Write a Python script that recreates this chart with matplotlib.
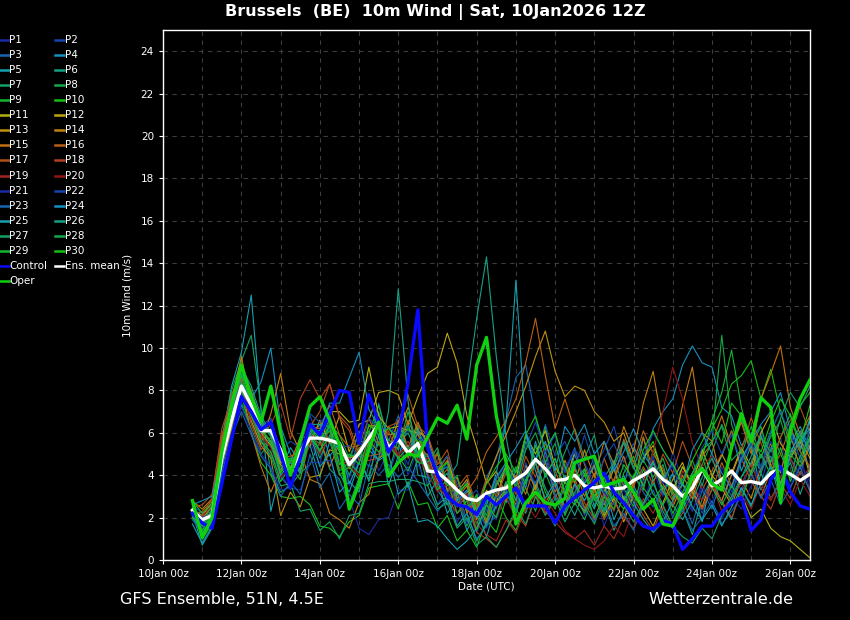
"""GFS ensemble 10m wind plume for Brussels, wetterzentrale style."""

import matplotlib

matplotlib.use("Agg")
import matplotlib.pyplot as plt
import numpy as np
from matplotlib.lines import Line2D

OUTPUT_PNG = "out.png"

# ---------------------------------------------------------------------------
# Data: 6-hourly steps from 10Jan 18z to 26Jan 12z (m/s)
# ---------------------------------------------------------------------------
STEP_DAYS = 0.25
FIRST_DAY = 0.75  # 10Jan 18z, days after 10Jan 00z

P1 = [2.0, 1.2, 1.8, 4.5, 6.5, 7.6, 6.8, 5.2, 5.8, 4.1, 3.3, 4.9, 5.6, 4.5, 6.3, 4.7,
      3.5, 4.8, 5.9, 4.2, 5.1, 6.0, 4.0, 5.2, 3.9, 2.6, 3.4, 1.8, 2.5, 1.3, 2.4, 1.9,
      3.1, 2.2, 4.0, 3.1, 5.2, 3.6, 2.4, 3.5, 2.1, 3.3, 1.6, 2.8, 1.9, 3.4, 2.5, 4.3,
      3.0, 5.1, 3.7, 2.3, 3.6, 2.6, 4.4, 3.2, 5.0, 3.9, 6.1, 4.6, 5.8, 3.7, 4.9, 3.3]
P2 = [2.6, 2.2, 2.4, 5.2, 7.1, 8.0, 7.4, 6.3, 6.7, 5.1, 4.6, 5.8, 6.8, 5.6, 6.2, 4.6,
      3.9, 5.0, 4.4, 6.2, 4.0, 5.4, 4.5, 6.0, 4.6, 3.5, 4.1, 2.7, 3.3, 2.0, 3.1, 2.4,
      4.5, 3.6, 5.8, 4.7, 6.4, 4.9, 5.6, 4.3, 5.9, 4.4, 5.2, 6.3, 4.6, 5.5, 3.8, 4.9,
      3.1, 4.0, 2.6, 3.5, 2.2, 3.4, 2.8, 4.1, 3.3, 4.6, 3.6, 5.3, 4.2, 6.0, 5.1, 6.6]
P3 = [2.1, 1.6, 2.0, 4.4, 6.2, 7.4, 6.5, 5.5, 5.1, 3.9, 3.4, 5.1, 6.1, 5.0, 6.6, 5.5,
      4.6, 6.1, 5.2, 7.4, 5.6, 6.8, 5.1, 6.4, 5.3, 3.9, 4.6, 3.0, 3.7, 2.4, 3.9, 4.8,
      6.6, 8.6, 9.2, 6.7, 5.1, 6.0, 4.2, 5.3, 3.6, 4.9, 3.3, 4.5, 2.9, 4.0, 3.2, 2.5,
      3.4, 2.0, 2.9, 1.7, 3.3, 2.4, 3.9, 3.0, 4.7, 5.6, 4.1, 5.3, 3.6, 4.8, 4.0, 5.7]
P4 = [2.4, 1.9, 2.3, 4.9, 7.0, 8.5, 7.6, 8.4, 10.0, 6.3, 5.0, 4.2, 5.7, 6.4, 4.9, 5.5,
      3.6, 4.6, 5.5, 4.7, 5.6, 4.8, 6.4, 5.0, 4.0, 3.3, 2.6, 3.4, 1.8, 2.5, 1.6, 3.2,
      2.7, 4.3, 3.4, 5.6, 3.9, 4.8, 3.1, 5.0, 3.6, 4.4, 3.0, 4.7, 3.5, 5.3, 4.6, 6.2,
      7.0, 7.6, 9.2, 10.1, 9.3, 9.1, 7.2, 6.8, 5.4, 6.0, 4.3, 4.9, 3.6, 5.5, 6.3, 5.2]
P5 = [2.2, 0.7, 1.5, 5.5, 8.2, 9.8, 12.5, 7.0, 2.3, 4.2, 5.3, 4.6, 5.4, 3.9, 5.6, 4.1,
      3.2, 4.6, 3.8, 5.9, 3.5, 4.9, 3.4, 4.8, 3.0, 3.8, 2.2, 2.9, 1.4, 2.3, 1.1, 2.6,
      3.7, 2.8, 4.5, 3.4, 5.1, 2.9, 4.0, 2.7, 4.3, 2.5, 3.6, 1.9, 3.0, 2.2, 3.8, 4.6,
      3.2, 4.1, 2.4, 3.3, 1.8, 4.0, 4.9, 6.1, 4.2, 5.4, 3.3, 4.5, 2.8, 5.1, 5.9, 4.1]
P6 = [2.0, 1.4, 2.2, 4.8, 7.2, 8.8, 7.9, 6.4, 5.9, 4.6, 4.3, 5.3, 6.0, 4.8, 5.9, 5.1,
      4.0, 5.2, 6.1, 5.4, 6.3, 5.5, 6.0, 4.9, 4.9, 4.2, 3.8, 4.5, 8.0, 11.4, 14.3, 9.6,
      5.8, 3.3, 2.2, 3.7, 2.5, 1.6, 3.0, 2.1, 3.3, 1.9, 2.7, 1.4, 2.4, 3.5, 2.6, 3.8,
      2.3, 1.5, 2.4, 1.2, 2.9, 3.9, 2.7, 1.9, 3.4, 2.5, 4.1, 2.9, 3.7, 4.6, 3.1, 4.4]
P7 = [2.3, 1.1, 1.9, 5.8, 8.0, 9.4, 10.6, 7.2, 4.1, 3.2, 3.5, 4.1, 4.5, 5.6, 4.3, 3.8,
      2.6, 3.9, 4.0, 5.6, 4.1, 5.7, 6.4, 5.0, 5.0, 3.6, 4.1, 2.5, 3.0, 1.7, 2.8, 3.6,
      4.4, 3.5, 5.6, 4.7, 6.3, 3.9, 5.1, 6.2, 4.8, 5.9, 3.6, 4.4, 5.5, 4.3, 5.8, 3.7,
      4.5, 2.9, 3.8, 4.7, 3.5, 5.1, 6.4, 5.3, 6.6, 5.2, 4.1, 6.0, 7.1, 5.3, 4.6, 6.1]
P8 = [2.5, 1.8, 2.1, 4.3, 6.0, 7.3, 6.2, 5.0, 5.6, 4.4, 4.2, 4.3, 5.8, 5.5, 6.7, 5.3,
      4.3, 5.6, 5.5, 7.0, 5.1, 6.6, 5.0, 6.3, 4.3, 5.1, 3.2, 3.9, 2.3, 3.1, 1.9, 3.5,
      4.2, 2.8, 3.4, 2.3, 4.1, 3.0, 2.2, 3.6, 2.5, 1.7, 2.9, 3.8, 2.6, 4.0, 3.3, 5.2,
      3.9, 3.1, 4.4, 3.6, 5.2, 5.6, 10.6, 6.4, 5.0, 6.3, 4.8, 6.1, 5.0, 3.9, 5.6, 6.5]
P9 = [2.7, 1.5, 2.3, 5.1, 7.0, 8.6, 7.0, 5.8, 6.2, 5.0, 4.7, 4.8, 6.2, 5.1, 6.4, 5.9,
      4.8, 6.0, 6.0, 7.3, 5.5, 4.9, 4.2, 5.4, 3.5, 4.4, 2.6, 3.3, 1.6, 2.7, 1.8, 3.0,
      2.0, 1.4, 2.6, 3.5, 2.4, 3.6, 2.1, 3.2, 4.0, 2.8, 3.9, 2.6, 3.4, 2.5, 4.3, 3.1,
      2.6, 3.5, 2.3, 3.9, 4.8, 6.6, 7.9, 9.9, 7.2, 5.4, 6.3, 4.6, 5.8, 6.9, 5.2, 6.7]
P10 = [2.6, 1.0, 1.7, 4.0, 6.1, 7.8, 6.0, 4.6, 4.0, 3.0, 2.9, 3.0, 2.6, 1.6, 1.5, 1.1,
       1.8, 2.1, 3.4, 3.5, 3.6, 2.4, 3.7, 2.6, 2.7, 1.5, 2.1, 0.9, 1.4, 0.6, 1.9, 1.3,
       2.9, 2.1, 3.8, 4.6, 3.2, 2.4, 3.7, 2.8, 4.1, 2.9, 2.0, 3.0, 2.4, 3.9, 4.8, 5.6,
       4.0, 3.2, 2.7, 4.1, 5.0, 6.2, 7.1, 8.3, 8.7, 9.4, 7.6, 9.0, 6.9, 5.8, 7.3, 7.9]
P11 = [2.0, 1.9, 2.6, 4.6, 6.6, 7.9, 6.9, 6.0, 5.4, 4.5, 4.1, 4.3, 5.8, 5.7, 7.0, 7.0,
       6.5, 6.6, 9.1, 6.8, 6.2, 6.3, 6.1, 6.0, 5.8, 4.2, 4.9, 3.1, 3.6, 2.0, 3.3, 2.7,
       4.6, 3.8, 5.9, 5.0, 6.1, 4.4, 3.6, 5.1, 3.7, 4.5, 3.2, 4.3, 2.8, 3.6, 4.8, 5.4,
       4.1, 3.3, 4.4, 3.5, 5.2, 4.0, 3.4, 2.6, 3.1, 2.0, 2.4, 1.5, 1.1, 0.9, 0.5, 0.1]
P12 = [2.4, 2.1, 2.7, 5.0, 7.4, 9.2, 7.3, 6.1, 5.6, 4.6, 4.4, 5.3, 5.4, 6.6, 5.5, 6.8,
       5.1, 6.4, 6.6, 7.9, 8.0, 7.8, 6.4, 7.7, 8.8, 9.1, 10.7, 9.3, 6.8, 5.3, 3.6, 4.2,
       3.0, 3.9, 2.4, 3.5, 4.6, 3.4, 4.5, 2.9, 2.3, 3.4, 2.1, 2.9, 1.8, 3.1, 2.4, 1.6,
       2.7, 3.8, 4.6, 3.2, 2.5, 3.9, 5.0, 4.1, 5.3, 4.4, 6.0, 6.9, 5.5, 4.8, 5.6, 4.0]
P13 = [2.2, 2.0, 2.5, 4.2, 6.3, 8.0, 6.6, 5.4, 4.8, 2.1, 3.2, 2.5, 3.9, 4.0, 5.2, 5.0,
       4.8, 5.0, 6.3, 6.4, 5.9, 6.0, 7.2, 6.1, 5.7, 4.3, 4.9, 3.2, 3.8, 2.3, 3.7, 4.9,
       5.9, 7.0, 8.2, 9.6, 10.8, 8.9, 7.7, 8.2, 8.0, 7.0, 6.5, 5.6, 6.0, 4.6, 3.8, 4.7,
       3.3, 2.5, 3.6, 2.9, 4.4, 3.5, 2.8, 4.0, 5.2, 4.1, 5.8, 4.5, 3.6, 4.9, 5.7, 4.8]
P14 = [2.8, 2.4, 2.9, 5.3, 7.5, 9.6, 7.2, 5.5, 6.9, 8.8, 6.1, 5.1, 3.8, 3.6, 2.2, 1.9,
       1.5, 2.7, 3.1, 4.8, 5.1, 6.6, 5.3, 6.5, 5.4, 4.1, 4.7, 2.9, 3.5, 1.9, 3.2, 2.5,
       3.6, 2.6, 4.5, 3.3, 5.0, 3.2, 4.7, 3.6, 5.2, 3.9, 5.6, 4.5, 6.3, 5.1, 7.4, 8.9,
       6.2, 5.0, 7.3, 9.1, 6.0, 5.6, 3.7, 2.6, 3.8, 2.9, 4.4, 5.5, 4.1, 5.9, 4.3, 5.4]
P15 = [2.3, 1.7, 2.2, 4.7, 6.8, 8.2, 6.0, 4.4, 3.2, 4.3, 4.6, 5.8, 5.8, 5.7, 4.4, 5.5,
       4.3, 5.3, 5.4, 6.6, 4.9, 6.2, 4.8, 6.0, 4.2, 5.0, 3.3, 3.9, 2.2, 2.9, 1.7, 3.8,
       2.8, 4.0, 3.1, 4.6, 2.7, 3.5, 2.4, 4.3, 3.0, 4.1, 2.6, 3.8, 4.9, 3.4, 5.8, 4.2,
       3.6, 2.8, 4.0, 3.1, 4.9, 5.5, 6.8, 5.3, 6.5, 5.0, 7.6, 8.8, 10.1, 7.2, 5.9, 6.8]
P16 = [2.1, 2.3, 2.8, 5.6, 7.8, 9.0, 8.0, 6.6, 6.0, 4.8, 4.9, 5.1, 6.3, 6.2, 7.3, 5.9,
       5.3, 5.4, 6.7, 5.5, 5.3, 5.3, 6.6, 5.5, 4.9, 3.7, 4.3, 2.6, 3.2, 3.9, 5.1, 5.8,
       6.6, 7.6, 9.3, 11.4, 8.7, 6.2, 7.6, 6.1, 4.5, 3.2, 4.8, 3.6, 5.7, 4.6, 6.1, 5.0,
       4.3, 3.1, 2.6, 3.7, 2.4, 3.3, 4.6, 3.5, 4.8, 3.7, 3.0, 4.2, 5.0, 6.3, 5.1, 4.4]
P17 = [2.5, 2.6, 3.1, 5.9, 7.0, 8.6, 6.4, 5.2, 5.8, 4.7, 4.6, 4.9, 6.3, 7.0, 8.3, 6.8,
       6.3, 5.0, 4.9, 5.0, 6.3, 6.5, 7.8, 6.3, 5.9, 4.5, 5.2, 3.4, 4.0, 2.5, 3.8, 3.0,
       4.1, 3.1, 4.9, 3.9, 5.5, 4.2, 3.0, 3.9, 2.4, 3.3, 1.9, 2.8, 2.0, 3.5, 4.4, 3.6,
       5.0, 4.1, 5.6, 4.4, 3.3, 4.2, 5.0, 6.1, 5.2, 6.7, 5.5, 4.3, 5.8, 6.6, 7.2, 6.0]
P18 = [2.0, 2.1, 2.9, 6.2, 7.6, 8.1, 6.9, 5.7, 6.4, 7.4, 5.7, 7.6, 8.5, 7.6, 8.3, 6.7,
       6.1, 4.7, 4.7, 4.8, 6.1, 4.9, 4.9, 5.0, 4.6, 3.5, 2.9, 2.2, 2.6, 1.3, 1.0, 0.6,
       1.4, 2.2, 1.6, 3.0, 2.2, 3.1, 2.4, 3.6, 2.7, 1.9, 3.2, 2.3, 3.8, 2.9, 2.1, 1.4,
       2.5, 1.6, 2.2, 3.1, 2.4, 3.6, 2.8, 2.0, 3.2, 4.1, 3.0, 2.4, 3.6, 2.9, 4.2, 3.3]
P19 = [2.4, 2.0, 2.6, 5.4, 7.2, 8.4, 7.0, 5.9, 5.3, 4.2, 4.6, 4.1, 6.0, 5.4, 6.1, 4.3,
       4.8, 3.9, 6.0, 5.4, 5.6, 4.9, 5.6, 4.7, 4.8, 3.6, 3.9, 2.5, 3.1, 1.7, 1.2, 0.9,
       1.9, 1.3, 2.4, 3.1, 2.3, 1.8, 1.3, 1.0, 1.4, 0.7, 1.6, 1.0, 2.0, 1.5, 2.9, 2.2,
       3.3, 2.6, 4.2, 3.5, 2.8, 3.6, 2.3, 3.0, 3.6, 4.5, 3.4, 2.8, 3.9, 4.8, 3.7, 4.4]
P20 = [2.2, 1.8, 2.4, 5.0, 6.6, 7.8, 6.7, 5.6, 5.0, 3.9, 4.4, 3.8, 5.6, 5.0, 5.8, 4.0,
       4.4, 4.0, 5.7, 5.1, 5.4, 5.0, 5.3, 4.8, 4.1, 3.2, 3.6, 2.2, 2.8, 1.5, 2.6, 2.0,
       3.0, 1.9, 2.7, 2.0, 2.9, 2.2, 1.4, 1.0, 0.7, 0.5, 0.9, 1.6, 1.1, 2.4, 3.6, 5.1,
       7.0, 9.1, 7.6, 5.5, 4.4, 4.9, 3.5, 2.7, 3.1, 2.4, 3.6, 2.9, 3.4, 2.6, 3.8, 3.0]
P21 = [2.3, 1.5, 1.9, 4.2, 6.0, 7.2, 6.1, 5.0, 4.4, 3.3, 3.4, 3.3, 4.6, 4.6, 4.7, 3.6,
       2.9, 1.5, 1.2, 1.9, 2.0, 3.3, 3.3, 4.5, 3.6, 4.3, 2.8, 3.4, 1.7, 2.4, 1.5, 2.9,
       3.4, 2.5, 4.6, 3.6, 5.0, 3.3, 4.4, 5.1, 3.7, 4.6, 3.2, 2.6, 3.3, 2.4, 3.9, 4.8,
       3.6, 4.5, 3.0, 2.3, 3.4, 2.7, 1.9, 3.0, 2.4, 3.5, 4.4, 5.6, 4.3, 3.5, 4.5, 3.7]
P22 = [2.5, 2.0, 2.2, 4.6, 6.7, 7.9, 7.0, 6.0, 6.6, 5.2, 5.6, 5.3, 6.9, 6.5, 6.9, 5.3,
       5.4, 4.9, 6.7, 6.2, 6.2, 5.9, 6.1, 5.7, 5.6, 4.3, 4.9, 3.6, 2.9, 3.3, 2.3, 3.8,
       4.5, 3.6, 5.3, 6.5, 5.1, 5.9, 4.1, 5.2, 4.6, 3.5, 4.8, 5.5, 4.3, 3.7, 4.9, 6.0,
       5.2, 4.4, 3.1, 4.0, 5.3, 6.1, 5.0, 5.9, 4.6, 5.5, 4.4, 6.1, 7.0, 5.9, 4.8, 6.2]
P23 = [1.9, 1.3, 1.8, 4.0, 5.8, 7.0, 5.9, 4.9, 4.3, 3.0, 3.7, 3.1, 5.0, 3.4, 4.1, 2.4,
       3.1, 2.6, 4.5, 4.0, 4.5, 3.9, 4.4, 3.7, 3.0, 2.3, 2.9, 1.6, 2.2, 1.0, 1.6, 2.1,
       3.3, 2.4, 4.2, 3.6, 4.7, 3.0, 2.3, 3.2, 2.4, 1.8, 2.8, 1.6, 2.2, 1.4, 2.6, 3.3,
       2.1, 1.5, 2.4, 1.4, 2.0, 2.8, 1.7, 2.3, 3.0, 4.1, 2.9, 3.8, 2.6, 3.4, 4.4, 3.2]
P24 = [2.6, 2.8, 3.0, 5.0, 7.1, 8.7, 7.9, 6.6, 5.9, 4.7, 4.7, 4.7, 6.1, 6.1, 7.4, 7.4,
       8.6, 9.8, 7.1, 6.3, 4.9, 6.2, 4.9, 6.1, 5.2, 4.1, 4.4, 2.8, 3.3, 2.0, 2.6, 3.9,
       4.6, 5.3, 6.1, 4.7, 5.6, 4.2, 6.3, 5.6, 6.4, 5.0, 5.6, 4.2, 5.1, 6.2, 5.0, 4.3,
       3.8, 4.6, 3.5, 5.2, 6.0, 5.0, 4.1, 3.4, 4.8, 5.6, 6.4, 7.0, 7.9, 6.1, 5.3, 6.6]
P25 = [1.7, 0.8, 1.6, 4.4, 6.9, 8.3, 7.6, 6.2, 5.5, 4.0, 4.6, 4.1, 6.0, 4.4, 5.0, 3.2,
       3.7, 3.2, 5.2, 4.7, 5.0, 3.1, 3.6, 1.8, 1.9, 1.6, 1.0, 0.5, 0.9, 1.5, 2.6, 4.1,
       6.5, 13.2, 6.0, 4.2, 2.9, 3.7, 2.5, 3.6, 2.8, 3.8, 2.3, 3.1, 4.0, 2.7, 1.9, 1.3,
       1.8, 2.8, 3.6, 2.5, 1.9, 2.6, 1.6, 2.5, 3.4, 2.6, 3.6, 4.4, 3.3, 5.0, 6.1, 5.0]
P26 = [2.1, 1.6, 2.4, 5.2, 7.6, 9.1, 8.2, 6.8, 6.0, 4.8, 4.8, 4.9, 6.4, 6.4, 6.3, 5.1,
       4.9, 5.0, 3.7, 4.8, 7.0, 12.8, 7.5, 4.0, 3.9, 2.6, 3.0, 1.6, 2.2, 0.9, 1.7, 2.6,
       3.2, 2.3, 3.7, 4.6, 3.4, 2.5, 3.4, 4.4, 3.3, 2.4, 3.9, 4.6, 5.6, 4.4, 3.5, 4.6,
       3.2, 2.6, 1.9, 2.8, 3.9, 4.8, 3.6, 2.8, 3.9, 4.9, 5.9, 4.3, 3.5, 4.9, 5.6, 6.2]
P27 = [2.4, 1.3, 2.0, 4.8, 6.9, 8.4, 7.2, 5.6, 4.9, 3.5, 3.6, 2.3, 2.4, 1.4, 1.8, 1.0,
       2.1, 2.2, 3.6, 3.7, 3.7, 3.8, 3.8, 3.7, 3.5, 2.4, 2.7, 1.5, 2.0, 0.7, 1.1, 0.6,
       1.4, 2.4, 1.7, 3.0, 2.1, 2.9, 1.8, 2.7, 1.9, 3.1, 2.2, 3.4, 2.6, 1.8, 2.7, 3.6,
       2.6, 1.6, 1.1, 0.8, 1.5, 1.0, 2.1, 3.0, 3.9, 4.6, 5.8, 5.1, 6.7, 7.9, 7.2, 8.2]
P28 = [2.0, 1.7, 2.6, 5.4, 7.4, 9.0, 7.8, 6.5, 5.8, 4.2, 4.7, 4.2, 6.2, 5.6, 6.1, 4.2,
       4.6, 4.1, 6.0, 5.4, 5.7, 5.2, 7.0, 5.3, 4.6, 5.3, 3.5, 4.0, 2.4, 3.0, 2.1, 3.6,
       4.3, 3.4, 5.2, 6.0, 4.6, 5.5, 3.7, 3.0, 2.2, 3.1, 2.4, 3.6, 2.7, 4.0, 4.7, 3.9,
       4.8, 3.4, 2.7, 3.8, 4.5, 5.6, 6.3, 4.7, 5.2, 4.0, 4.9, 5.8, 6.6, 5.0, 4.4, 5.8]
P29 = [2.8, 2.2, 2.7, 5.0, 6.8, 8.0, 6.8, 5.6, 5.1, 3.7, 4.4, 3.8, 5.8, 5.2, 5.8, 4.0,
       4.4, 3.8, 5.6, 5.1, 5.4, 4.8, 5.3, 4.6, 4.5, 3.3, 3.8, 2.2, 2.8, 1.4, 2.6, 2.0,
       3.6, 4.4, 3.6, 5.4, 4.0, 4.8, 3.1, 2.6, 3.4, 2.0, 3.0, 2.4, 4.1, 4.9, 3.4, 2.8,
       3.5, 2.2, 3.2, 4.1, 4.9, 3.4, 2.6, 3.5, 2.8, 4.2, 5.0, 4.0, 5.3, 3.7, 4.9, 5.8]
P30 = [2.3, 1.4, 2.1, 4.9, 7.3, 8.7, 7.5, 6.2, 5.6, 4.1, 4.8, 4.3, 6.3, 5.7, 6.3, 4.5,
       5.0, 4.5, 6.4, 5.9, 6.2, 5.7, 6.2, 5.6, 5.5, 4.2, 4.6, 3.1, 3.6, 2.3, 3.6, 4.4,
       5.0, 4.1, 5.9, 6.8, 5.2, 6.0, 4.4, 3.7, 4.3, 3.0, 3.9, 3.2, 4.5, 3.8, 5.2, 6.1,
       5.2, 4.5, 3.6, 4.7, 5.6, 6.5, 5.5, 7.4, 6.8, 5.7, 5.1, 6.5, 7.6, 6.8, 5.6, 7.3]

CONTROL = [2.2, 1.75, 1.5, 3.6, 5.7, 7.7, 7.0, 6.15, 6.5, 5.0, 3.45, 4.8, 6.4, 5.9, 6.9, 8.0,
           7.9, 5.5, 7.8, 6.5, 5.1, 5.8, 8.4, 11.8, 5.3, 4.0, 3.0, 2.6, 2.5, 2.15, 3.0, 2.6,
           3.0, 3.4, 2.55, 2.55, 2.55, 1.75, 2.55, 2.95, 3.3, 3.65, 4.1, 3.2, 2.7, 2.1, 1.6, 1.45,
           1.85, 1.7, 0.5, 1.0, 1.6, 1.6, 2.25, 2.7, 2.95, 1.4, 1.9, 3.8, 4.4, 3.2, 2.55, 2.4]
OPER = [2.8, 1.05, 2.0, 5.1, 7.3, 9.2, 7.7, 6.5, 8.2, 6.0, 4.0, 5.6, 7.25, 7.7, 6.6, 5.45,
        2.4, 3.6, 5.2, 6.5, 3.95, 4.6, 5.0, 4.9, 5.8, 6.7, 6.45, 7.3, 5.7, 9.2, 10.5, 6.8,
        4.6, 1.7, 2.7, 3.2, 2.7, 2.6, 2.9, 4.6, 4.75, 4.9, 3.5, 3.65, 3.8, 3.2, 2.4, 2.85,
        1.7, 1.6, 2.7, 3.9, 4.3, 3.6, 3.3, 5.3, 6.9, 5.6, 7.65, 7.2, 2.7, 6.15, 7.6, 8.5]
ENS_MEAN = [2.35, 1.9, 2.1, 4.8, 6.6, 8.2, 7.3, 6.1, 6.1, 5.2, 4.15, 5.1, 5.75, 5.75, 5.65, 5.5,
            4.5, 5.05, 5.75, 6.4, 5.3, 5.7, 5.05, 5.5, 4.2, 4.15, 3.75, 3.3, 2.9, 2.8, 3.15, 3.3,
            3.4, 3.8, 4.1, 4.75, 4.3, 3.75, 3.8, 4.0, 3.5, 3.4, 3.5, 3.35, 3.4, 3.75, 4.0, 4.3,
            3.8, 3.5, 3.0, 3.4, 4.3, 3.5, 3.8, 4.2, 3.65, 3.7, 3.6, 4.1, 4.3, 4.05, 3.75, 4.05]

MEMBERS = [P1, P2, P3, P4, P5, P6, P7, P8, P9, P10,
           P11, P12, P13, P14, P15, P16, P17, P18, P19, P20,
           P21, P22, P23, P24, P25, P26, P27, P28, P29, P30]

# P1-P10 and P21-P30 share a blue->green ramp, P11-P20 go yellow->red
RAMP_A = ["#1a2aa0", "#1545a8", "#1565b0", "#1590c0", "#15a0b0",
          "#15a085", "#15a065", "#15a848", "#15b530", "#15c015"]
RAMP_B = ["#b0b010", "#c0a510", "#c09010", "#c08010", "#c07010",
          "#b86015", "#b05015", "#b04020", "#a02820", "#901515"]
MEMBER_COLORS = RAMP_A + RAMP_B + RAMP_A
CONTROL_COLOR = "#0a0aff"
OPER_COLOR = "#10d010"
MEAN_COLOR = "white"

DATE_LABELS = ["10Jan 00z", "12Jan 00z", "14Jan 00z", "16Jan 00z", "18Jan 00z",
               "20Jan 00z", "22Jan 00z", "24Jan 00z", "26Jan 00z"]

# ---------------------------------------------------------------------------
# Plot
# ---------------------------------------------------------------------------
plt.rcParams["font.family"] = "DejaVu Sans"

fig = plt.figure(figsize=(8.5, 6.2), dpi=100, facecolor="black")
ax = fig.add_axes([163 / 850, 1 - 560 / 620, 647 / 850, 530 / 620], facecolor="black")

t = FIRST_DAY + STEP_DAYS * np.arange(len(ENS_MEAN))

for vals, col in zip(MEMBERS, MEMBER_COLORS):
    ax.plot(t, vals, color=col, lw=0.8, zorder=2)
ax.plot(t, ENS_MEAN, color=MEAN_COLOR, lw=2.4, zorder=3)
ax.plot(t, CONTROL, color=CONTROL_COLOR, lw=2.4, zorder=4)
ax.plot(t, OPER, color=OPER_COLOR, lw=2.4, zorder=5)

ax.set_xlim(0, 16.5)
ax.set_ylim(0, 25)
ax.set_xticks(np.arange(0, 17, 2))
ax.set_xticklabels(DATE_LABELS)
ax.set_xticks(np.arange(0, 17, 1), minor=True)
ax.set_yticks(np.arange(0, 25, 2))

ax.grid(True, which="both", axis="x", color="#3c3c3c", lw=0.8, ls=(0, (4, 4)), zorder=1)
ax.grid(True, which="major", axis="y", color="#3c3c3c", lw=0.8, ls=(0, (4, 4)), zorder=1)
ax.set_axisbelow(True)

ax.tick_params(colors="white", labelsize=7.5, length=3, width=0.8)
ax.tick_params(which="minor", length=0)
for spine in ax.spines.values():
    spine.set_color("white")
    spine.set_linewidth(1.0)

ax.set_xlabel("Date (UTC)", color="white", fontsize=7.5, labelpad=2)
ax.set_ylabel("10m Wind (m/s)", color="white", fontsize=7.5, labelpad=6)

fig.text(435 / 850, 1 - 12 / 620, "Brussels  (BE)  10m Wind | Sat, 10Jan2026 12Z",
         color="white", fontsize=11.5, fontweight="bold", ha="center", va="center")
fig.text(120 / 850, 1 - 599 / 620, "GFS Ensemble, 51N, 4.5E",
         color="white", fontsize=11.5, ha="left", va="center")
fig.text(793 / 850, 1 - 599 / 620, "Wetterzentrale.de",
         color="white", fontsize=11.5, ha="right", va="center")

# Legend drawn by hand in two columns left of the axes
names = ["P%d" % (k + 1) for k in range(30)]
entries = list(zip(names, MEMBER_COLORS))
entries += [("Control", CONTROL_COLOR), ("Ens. mean", MEAN_COLOR), ("Oper", OPER_COLOR)]
for k, (name, col) in enumerate(entries):
    row, colno = divmod(k, 2)
    y = 1 - (40 + 15.06 * row) / 620
    x0 = (0 if colno == 0 else 55) / 850
    fig.add_artist(Line2D([x0, x0 + 9 / 850], [y, y], color=col, lw=1.8,
                          transform=fig.transFigure))
    fig.text(x0 + 9.5 / 850, y, name, color="white", fontsize=7.5,
             ha="left", va="center")

fig.savefig(OUTPUT_PNG, dpi=100, facecolor="black")
